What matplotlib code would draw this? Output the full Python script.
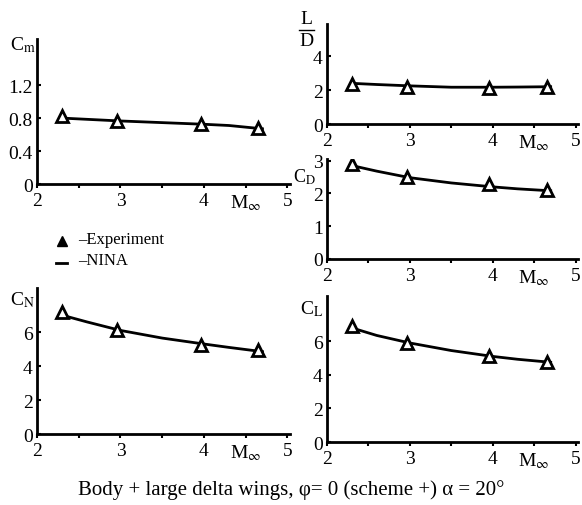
import matplotlib

matplotlib.use("Agg")
import matplotlib.pyplot as plt

plt.rcParams["font.family"] = ["Liberation Serif", "DejaVu Serif"]
plt.rcParams["mathtext.fontset"] = "stix"

W, H = 582, 506

# experiment points (Mach numbers)
mach_exp = [2.3, 2.96, 3.96, 4.65]
cm_exp = [0.83, 0.77, 0.73, 0.68]
ld_exp = [2.35, 2.2, 2.15, 2.2]
cd_exp = [2.9, 2.5, 2.28, 2.1]
cn_exp = [7.2, 6.1, 5.25, 4.95]
cl_exp = [6.9, 5.9, 5.15, 4.75]

# NINA calculation curves
mach_nina = [2.3, 2.6, 3.0, 3.5, 4.0, 4.3, 4.7]
cm_nina = [0.80, 0.785, 0.765, 0.745, 0.725, 0.71, 0.67]
ld_nina = [2.4, 2.33, 2.25, 2.17, 2.17, 2.18, 2.2]
cd_nina = [2.85, 2.68, 2.48, 2.32, 2.2, 2.14, 2.08]
cn_nina = [7.0, 6.6, 6.1, 5.65, 5.3, 5.1, 4.85]
cl_nina = [6.8, 6.35, 5.9, 5.45, 5.1, 4.93, 4.75]

xticks = [2, 3, 4, 4.5, 5]
xlabels = ["2", "3", "4", r"$\mathregular{M}_{\infty}$", "5"]

FS = 14


def panel(fig, box, ylim, yticks, ylabels, exp, nina):
    left, right, top, bottom = box
    ax = fig.add_axes([left / W, 1 - bottom / H, (right - left) / W,
                       (bottom - top) / H])
    for side in ("top", "right"):
        ax.spines[side].set_visible(False)
    for side in ("left", "bottom"):
        ax.spines[side].set_linewidth(2)
    ax.plot(mach_nina, nina, color="black", linewidth=2)
    ax.plot(mach_exp, exp, linestyle="none", marker="^", markersize=8.5,
            markerfacecolor="white", markeredgecolor="black",
            markeredgewidth=2)
    ax.set_xlim(2, 5.03)
    ax.set_ylim(*ylim)
    ax.set_xticks(xticks)
    ax.set_xticklabels(xlabels, fontsize=FS)
    ax.set_xticks([2.5, 3.5], minor=True)
    ax.set_yticks(yticks)
    ax.set_yticklabels(ylabels, fontsize=FS)
    ax.tick_params(axis="x", which="both", length=3, width=1.5, pad=3)
    ax.tick_params(axis="y", length=3, width=1.5, direction="in", pad=3)
    return ax


fig = plt.figure(figsize=(W / 100, H / 100), dpi=100)

panel(fig, (37, 290, 40, 185), (0, 1.76), [0, 0.4, 0.8, 1.2],
      ["0", "0.4", "0.8", "1.2"], cm_exp, cm_nina)
fig.text(10 / W, 1 - 50 / H, r"$\mathregular{C}_{\mathrm{m}}$", fontsize=FS)

panel(fig, (327, 578, 25, 125), (0, 5.9), [0, 2, 4], ["0", "2", "4"],
      ld_exp, ld_nina)
fig.text(306 / W, 1 - 19 / H, "L", fontsize=FS, ha="center", va="center")
fig.text(306 / W, 1 - 42 / H, "D", fontsize=FS, ha="center", va="center")
fig.add_artist(plt.Line2D([299 / W, 314 / W], [1 - 31 / H, 1 - 31 / H],
                          color="black", linewidth=1))

panel(fig, (327, 578, 160, 260), (0, 3.05), [0, 1, 2, 3],
      ["0", "1", "2", "3"], cd_exp, cd_nina)
fig.text(293 / W, 1 - 177 / H, r"$\mathregular{C}_{\mathrm{D}}$",
         fontsize=FS - 1, va="center")

panel(fig, (37, 290, 289, 435), (0, 8.6), [0, 2, 4, 6],
      ["0", "2", "4", "6"], cn_exp, cn_nina)
fig.text(10 / W, 1 - 305 / H, r"$\mathregular{C}_{\mathrm{N}}$", fontsize=FS)

panel(fig, (327, 578, 297, 443), (0, 8.7), [0, 2, 4, 6],
      ["0", "2", "4", "6"], cl_exp, cl_nina)
fig.text(300 / W, 1 - 314 / H, r"$\mathregular{C}_{\mathrm{L}}$", fontsize=FS)

# legend
fig.add_artist(plt.Line2D([62 / W], [1 - 242 / H], marker="^",
                          markersize=7, color="black", linestyle="none"))
fig.add_artist(plt.Line2D([56 / W, 67 / W], [1 - 264 / H, 1 - 264 / H],
                          color="black", linewidth=2))
fig.text(78 / W, 1 - 240 / H, "\u2013Experiment", fontsize=12, va="center")
fig.text(78 / W, 1 - 261 / H, "\u2013NINA", fontsize=12, va="center")

fig.text(0.5, 1 - 490 / H,
         "Body + large delta wings, \u03c6= 0 (scheme +) \u03b1 = 20\u00b0",
         fontsize=15, ha="center", va="center")

fig.savefig("out.png", dpi=100, facecolor="white")
